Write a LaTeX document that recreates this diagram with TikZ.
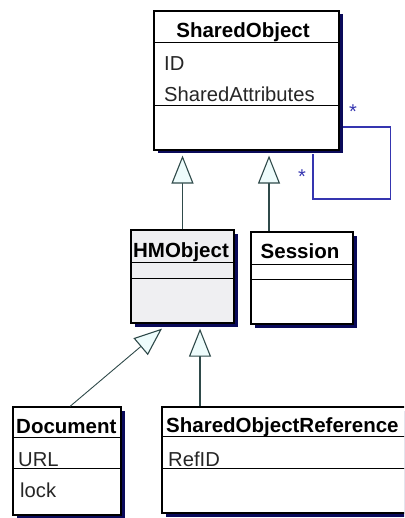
\documentclass[tikz,border=0pt]{standalone}
\usepackage{fontspec}
\setmainfont{Liberation Sans}
\usetikzlibrary{arrows.meta,shadows,calc}
\definecolor{umlshadow}{HTML}{0A0A5A}
\definecolor{genline}{HTML}{2F4A4A}
\definecolor{genfill}{HTML}{EEFCFC}
\definecolor{assocblue}{HTML}{3535B0}
\definecolor{abstractfill}{HTML}{EFEFF2}
\tikzset{
  classbox/.style={draw=black, line width=1.2pt, fill=white, inner sep=0pt,
    drop shadow={shadow xshift=3.5pt, shadow yshift=-3.5pt, opacity=1, fill=umlshadow}},
  compartment/.style={draw=black, line width=1pt},
  classname/.style={inner sep=0pt, anchor=base, font=\fontsize{20.5}{22}\selectfont\bfseries},
  attribute/.style={inner sep=0pt, anchor=base west, text=black!85, font=\fontsize{20.2}{22}\selectfont},
  generalization/.style={draw=genline, line width=1.1pt,
    -{Triangle[length=28pt, width=22pt, fill=genfill, line width=1.1pt]}},
  association/.style={draw=assocblue, line width=1.1pt},
  multiplicity/.style={inner sep=0pt, anchor=base, text=assocblue, font=\fontsize{20}{20}\selectfont}
}
\begin{document}
\begin{tikzpicture}[x=1pt, y=-1pt]
\useasboundingbox (0,0) rectangle (404,518);
\clip (0,0) rectangle (404,518);

% class boxes
\node[classbox, minimum width=185pt, minimum height=139pt] (so) at (246.5,80.5) {};
\node[classbox, fill=abstractfill, minimum width=103pt, minimum height=93pt] (hm) at (182.5,276.5) {};
\node[classbox, minimum width=102pt, minimum height=92pt] (ses) at (302,278) {};
\node[classbox, minimum width=108pt, minimum height=108pt] (doc) at (67,461) {};
\node[classbox, minimum width=250pt, minimum height=106pt] (sor) at (287,460) {};

% compartment separators
\draw[compartment] ([yshift=-32pt]so.north west) -- ([yshift=-32pt]so.north east);
\draw[compartment] ([yshift=-95pt]so.north west) -- ([yshift=-95pt]so.north east);
\draw[compartment] ([yshift=-33pt]hm.north west) -- ([yshift=-33pt]hm.north east);
\draw[compartment] ([yshift=-49pt]hm.north west) -- ([yshift=-49pt]hm.north east);
\draw[compartment] ([yshift=-33pt]ses.north west) -- ([yshift=-33pt]ses.north east);
\draw[compartment] ([yshift=-48pt]ses.north west) -- ([yshift=-48pt]ses.north east);
\draw[compartment] ([yshift=-31pt]doc.north west) -- ([yshift=-31pt]doc.north east);
\draw[compartment] ([yshift=-62pt]doc.north west) -- ([yshift=-62pt]doc.north east);
\draw[compartment] ([yshift=-30pt]sor.north west) -- ([yshift=-30pt]sor.north east);
\draw[compartment] ([yshift=-62pt]sor.north west) -- ([yshift=-62pt]sor.north east);

% class names
\node[classname] (soname) at (243,38) {SharedObject};
\node[classname] (hmname) at (181,257) {HMObject};
\node[classname] (sesname) at (300,258) {Session};
\node[classname, anchor=base west] (docname) at (16,433) {Document};
\node[classname, anchor=base west] (sorname) at (166,432) {SharedObjectReference};

% attributes
\node[attribute] (soid) at (164,71) {ID};
\node[attribute] (soattr) at (164,102) {SharedAttributes};
\node[attribute] (docurl) at (18,466) {URL};
\node[attribute] (doclock) at (20,497) {lock};
\node[attribute] (sorref) at (168,466) {RefID};

% generalizations
\coordinate (hmtip) at ($(hm.north |- so.south)+(0,5)$);
\coordinate (sestop) at ([xshift=-33pt]ses.north);
\coordinate (sestip) at ($(sestop |- so.south)+(0,5)$);
\coordinate (doctip) at ($(hm.south)+(-20.5,5)$);
\coordinate (sortop) at ([xshift=-87pt]sor.north);
\coordinate (sortip) at ($(sortop |- hm.south)+(0,5)$);
\draw[generalization] (hm.north) -- (hmtip);
\draw[generalization] (sestop) -- (sestip);
\draw[generalization, line width=0.9pt] ([xshift=3pt]doc.north) -- (doctip);
\draw[generalization] (sortop) -- (sortip);

% self association on SharedObject
\draw[association] ([xshift=3.5pt,yshift=-46.5pt]so.east) -- ++(47,0) -- ++(0,72)
  -| ([xshift=66.5pt,yshift=-3.5pt]so.south);
\node[multiplicity] (mult1) at (353,118.5) {*};
\node[multiplicity] (mult2) at (302,183.5) {*};
\end{tikzpicture}
\end{document}
